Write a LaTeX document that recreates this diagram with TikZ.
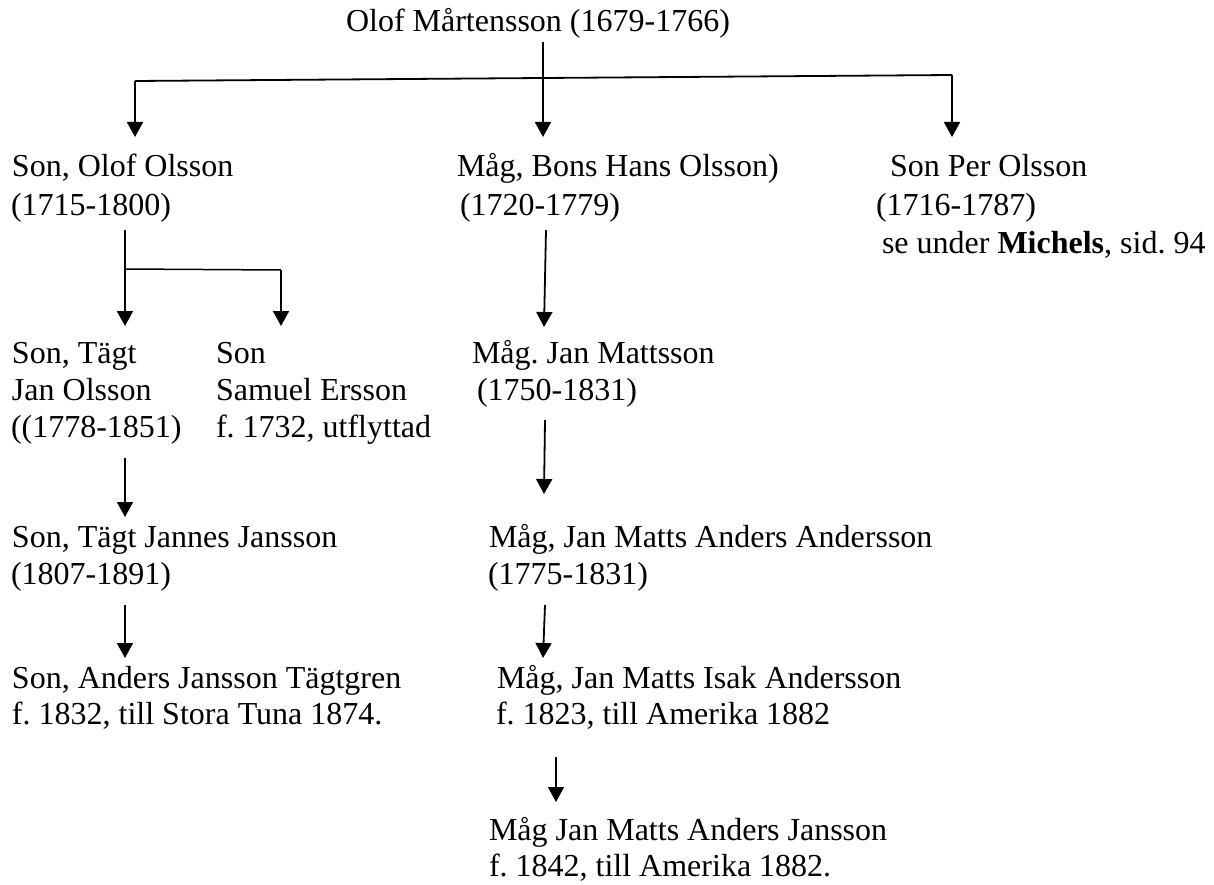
\documentclass[tikz,border=0pt]{standalone}
\usepackage{fontspec}
\setmainfont{Liberation Serif}
\frenchspacing
\usetikzlibrary{arrows.meta}
\tikzset{
  txt/.style={anchor=base west, inner sep=0pt, outer sep=0pt, font=\fontsize{32pt}{38pt}\selectfont\frenchspacing},
  conn/.style={line width=1.8pt, line cap=butt, line join=miter},
  arr/.style={conn, -{Triangle[length=15pt,width=16pt]}}
}
\begin{document}
\begin{tikzpicture}[x=1pt,y=-1pt]
\useasboundingbox (0,0) rectangle (1214,885);
% texts
\node[txt] (t0) at (346,32) {Olof Mårtensson (1679-1766)};
\node[txt] (a1) at (12,177) {Son, Olof Olsson};
\node[txt] (a2) at (11,216) {(1715-1800)};
\node[txt] (b1) at (457,177) {Måg, Bons Hans Olsson)};
\node[txt] (b2) at (460,216) {(1720-1779)};
\node[txt] (c1) at (890,177) {Son Per Olsson};
\node[txt] (c2) at (876,216) {(1716-1787)};
\node[txt] (c3) at (882,253) {se under \textbf{Michels}, sid. 94};
\node[txt] (d1) at (12,363) {Son, Tägt};
\node[txt] (d2) at (12,400) {Jan Olsson};
\node[txt] (d3) at (11,437) {((1778-1851)};
\node[txt] (e1) at (216,363) {Son};
\node[txt] (e2) at (216,400) {Samuel Ersson};
\node[txt] (e3) at (216,437) {f. 1732, utflyttad};
\node[txt] (f1) at (472,363) {Måg. Jan Mattsson};
\node[txt] (f2) at (477,400) {(1750-1831)};
\node[txt] (g1) at (12,547) {Son, Tägt Jannes Jansson};
\node[txt] (g2) at (11,584) {(1807-1891)};
\node[txt] (h1) at (489,547) {Måg, Jan Matts Anders Andersson};
\node[txt] (h2) at (488,584) {(1775-1831)};
\node[txt] (i1) at (12,688) {Son, Anders Jansson Tägtgren};
\node[txt] (i2) at (12,724) {f. 1832, till Stora Tuna 1874.};
\node[txt] (j1) at (497,688) {Måg, Jan Matts Isak Andersson};
\node[txt] (j2) at (496,724) {f. 1823, till Amerika 1882};
\node[txt] (k1) at (489,840) {Måg Jan Matts Anders Jansson};
\node[txt] (k2) at (489,876) {f. 1842, till Amerika 1882.};
% connector coordinates
\coordinate (p0) at (543,42);
\coordinate (p0t) at (543,137);
\coordinate (hl) at (135,81);
\coordinate (hlt) at (135,137);
\coordinate (hr) at (952,75);
\coordinate (hrt) at (952,137);
\coordinate (qa) at (125,230);
\coordinate (qab) at (125,269);
\coordinate (qat) at (125,326);
\coordinate (qeb) at (281,270);
\coordinate (qet) at (281,326);
\coordinate (qb) at (546,230);
\coordinate (qbt) at (544,327);
\coordinate (rd) at (125,458);
\coordinate (rdt) at (125,517);
\coordinate (rf) at (545,420);
\coordinate (rft) at (544,494);
\coordinate (sg) at (125,605);
\coordinate (sgt) at (125,658);
\coordinate (sh) at (545,605);
\coordinate (sht) at (543,658);
\coordinate (uj) at (556,757);
\coordinate (ujt) at (556,802);
% connectors
\draw[arr] (p0) -- (p0t);
\draw[conn] (hl) -- (hr);
\draw[arr] (hl) -- (hlt);
\draw[arr] (hr) -- (hrt);
\draw[arr] (qa) -- (qat);
\draw[conn, line width=1.5pt] (qab) -- (qeb);
\draw[arr] (qeb) -- (qet);
\draw[arr] (qb) -- (qbt);
\draw[arr] (rd) -- (rdt);
\draw[arr] (rf) -- (rft);
\draw[arr] (sg) -- (sgt);
\draw[arr] (sh) -- (sht);
\draw[arr] (uj) -- (ujt);
\end{tikzpicture}
\end{document}
